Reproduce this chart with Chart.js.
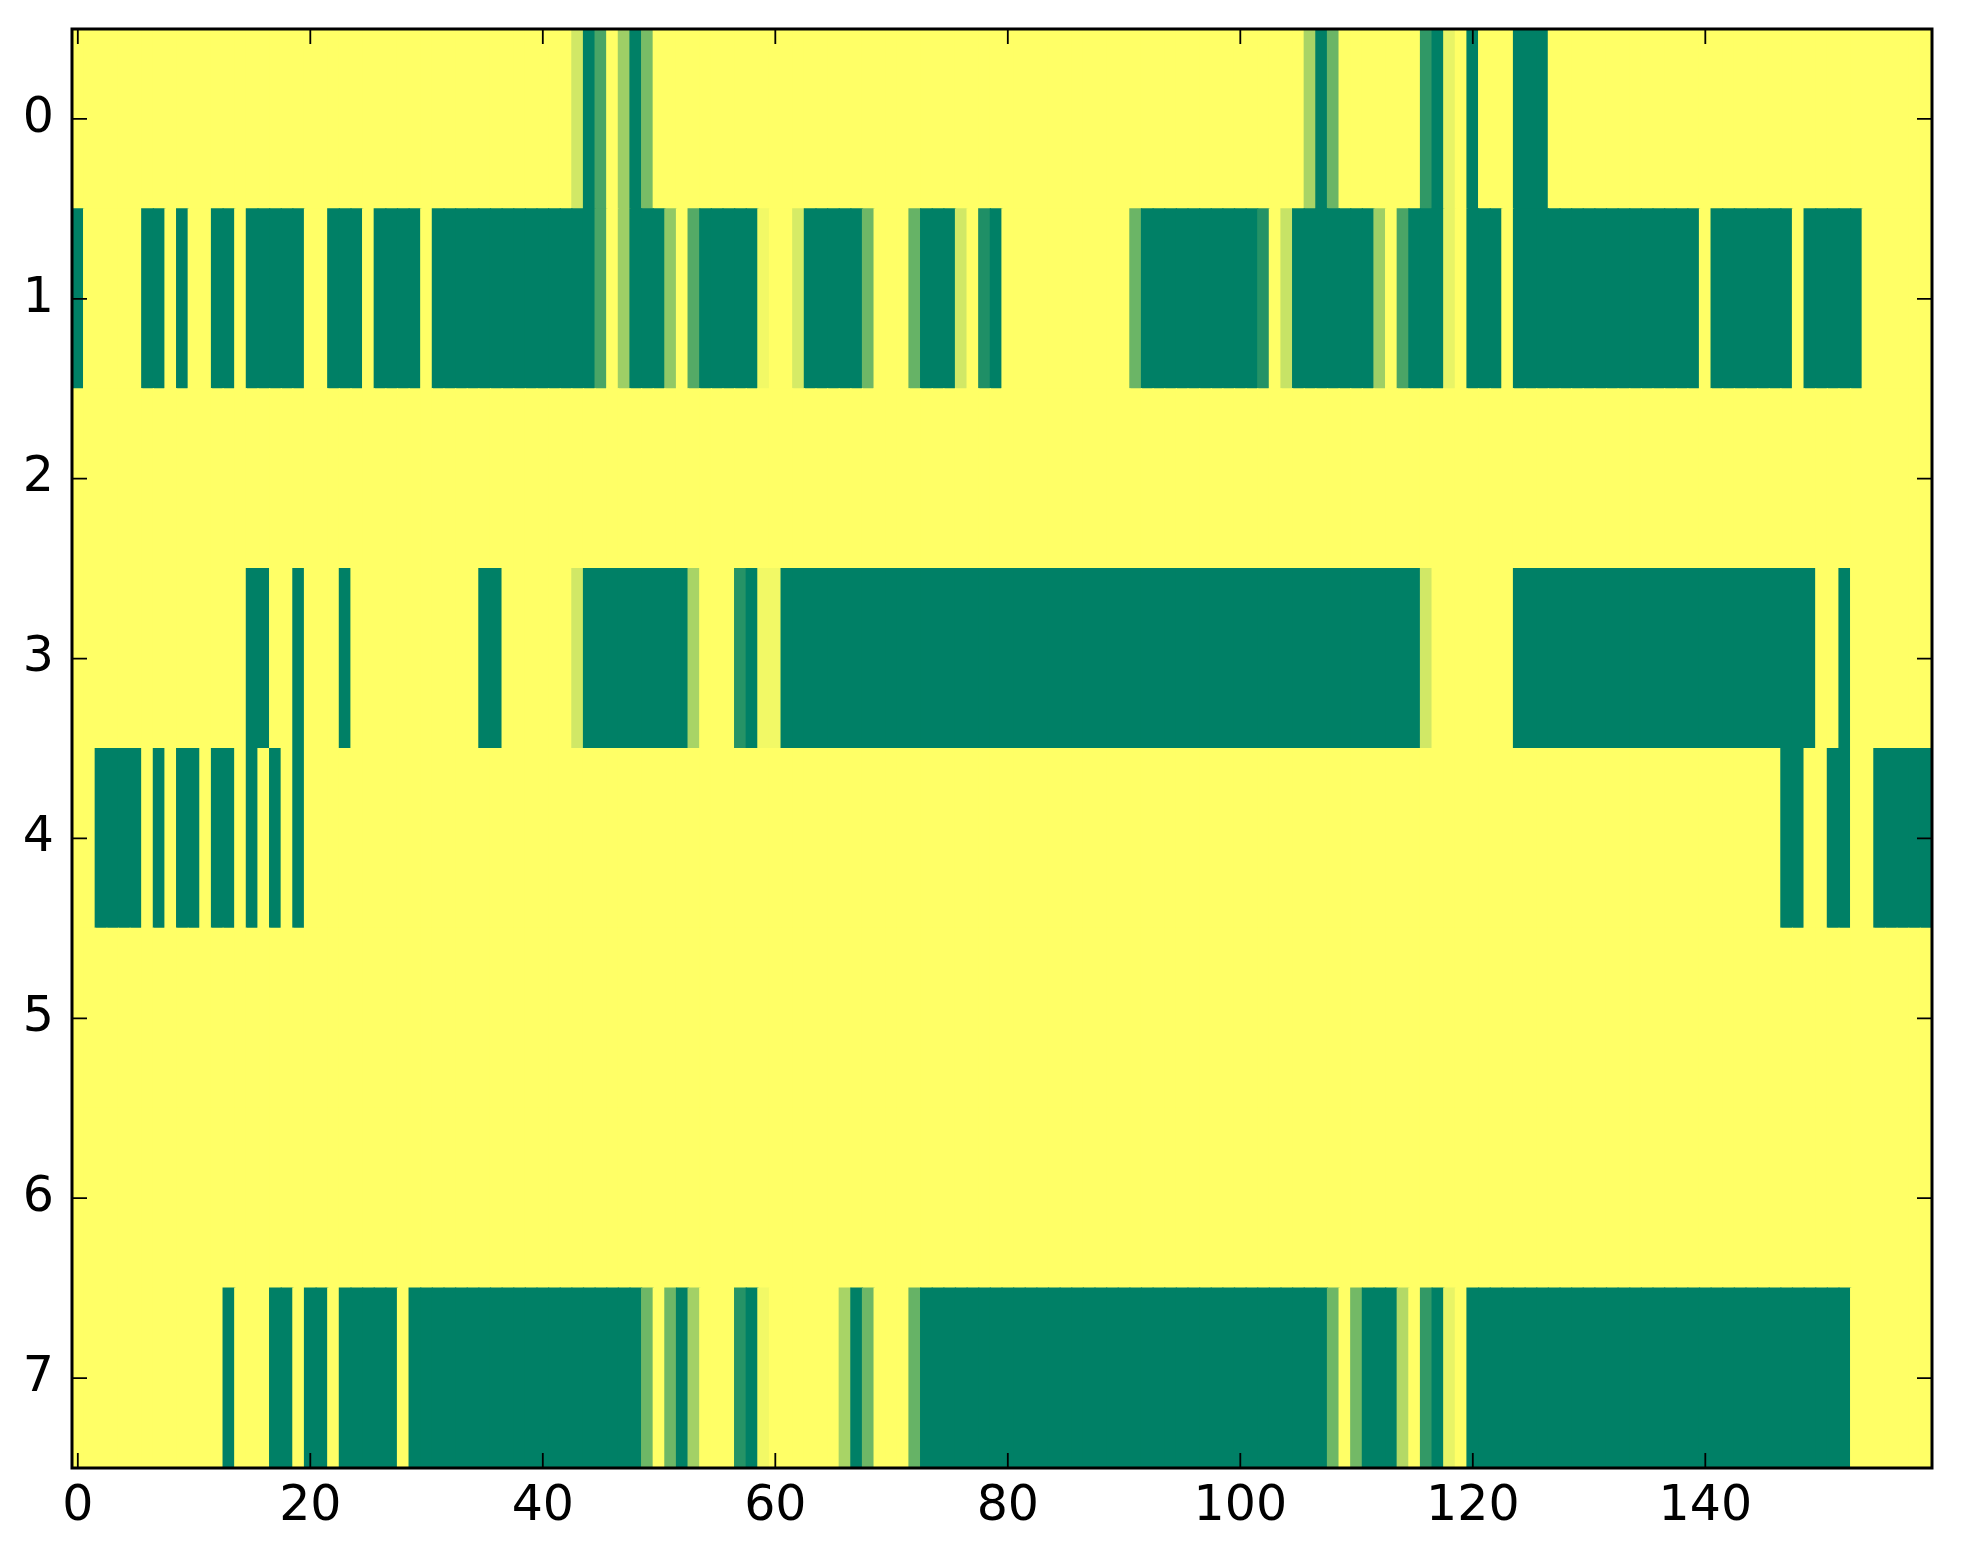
<!DOCTYPE html>
<html>
<head>
<meta charset="utf-8">
<title>heatmap</title>
<script src="https://cdn.jsdelivr.net/npm/chart.js@4.4.1/dist/chart.umd.min.js"></script>
<style>
  html, body { margin: 0; padding: 0; background: #ffffff; }
  canvas { display: block; }
</style>
</head>
<body>
<canvas id="heat" width="1963" height="1564"></canvas>
<script>
// one value per column (0 = yellow, 1 = dark green)
var row0 = [
  0,0,0,0,0,0,0,0,0,0,0,0,0,0,0,0,0,0,0,0,
  0,0,0,0,0,0,0,0,0,0,0,0,0,0,0,0,0,0,0,0,
  0,0,0,.18,1,.71,0,.38,1,.53,0,0,0,0,0,0,0,0,0,0,
  0,0,0,0,0,0,0,0,0,0,0,0,0,0,0,0,0,0,0,0,
  0,0,0,0,0,0,0,0,0,0,0,0,0,0,0,0,0,0,0,0,
  0,0,0,0,0,0,.34,1,.58,0,0,0,0,0,0,0,.81,1,.09,0,
  1,0,0,0,1,1,1,0,0,0,0,0,0,0,0,0,0,0,0,0,
  0,0,0,0,0,0,0,0,0,0,0,0,0,0,0,0,0,0,0,0
];
var row1 = [
  1,0,0,0,0,0,1,1,0,1,0,0,1,1,0,1,1,1,1,1,
  0,0,1,1,1,0,1,1,1,1,0,1,1,1,1,1,1,1,1,1,
  1,1,1,1,1,.71,0,.38,1,1,1,.43,0,.67,1,1,1,1,1,.05,
  0,0,.16,1,1,1,1,1,.57,0,0,0,.6,1,1,1,.18,0,.88,1,
  0,0,0,0,0,0,0,0,0,0,0,.58,1,1,1,1,1,1,1,1,
  1,1,.86,0,.22,1,1,1,1,1,1,1,.38,0,.71,1,1,1,.09,0,
  1,1,1,0,1,1,1,1,1,1,1,1,1,1,1,1,1,1,1,1,
  0,1,1,1,1,1,1,1,0,1,1,1,1,1,0,0,0,0,0,0
];
var row2 = [
  0,0,0,0,0,0,0,0,0,0,0,0,0,0,0,0,0,0,0,0,
  0,0,0,0,0,0,0,0,0,0,0,0,0,0,0,0,0,0,0,0,
  0,0,0,0,0,0,0,0,0,0,0,0,0,0,0,0,0,0,0,0,
  0,0,0,0,0,0,0,0,0,0,0,0,0,0,0,0,0,0,0,0,
  0,0,0,0,0,0,0,0,0,0,0,0,0,0,0,0,0,0,0,0,
  0,0,0,0,0,0,0,0,0,0,0,0,0,0,0,0,0,0,0,0,
  0,0,0,0,0,0,0,0,0,0,0,0,0,0,0,0,0,0,0,0,
  0,0,0,0,0,0,0,0,0,0,0,0,0,0,0,0,0,0,0,0
];
var row3 = [
  0,0,0,0,0,0,0,0,0,0,0,0,0,0,0,1,1,0,0,1,
  0,0,0,1,0,0,0,0,0,0,0,0,0,0,0,1,1,0,0,0,
  0,0,0,.18,1,1,1,1,1,1,1,1,1,.34,0,0,0,.85,1,.05,
  .05,1,1,1,1,1,1,1,1,1,1,1,1,1,1,1,1,1,1,1,
  1,1,1,1,1,1,1,1,1,1,1,1,1,1,1,1,1,1,1,1,
  1,1,1,1,1,1,1,1,1,1,1,1,1,1,1,1,.18,0,0,0,
  0,0,0,0,1,1,1,1,1,1,1,1,1,1,1,1,1,1,1,1,
  1,1,1,1,1,1,1,1,1,1,0,0,1,0,0,0,0,0,0,0
];
var row4 = [
  0,0,1,1,1,1,0,1,0,1,1,0,1,1,0,1,0,1,0,1,
  0,0,0,0,0,0,0,0,0,0,0,0,0,0,0,0,0,0,0,0,
  0,0,0,0,0,0,0,0,0,0,0,0,0,0,0,0,0,0,0,0,
  0,0,0,0,0,0,0,0,0,0,0,0,0,0,0,0,0,0,0,0,
  0,0,0,0,0,0,0,0,0,0,0,0,0,0,0,0,0,0,0,0,
  0,0,0,0,0,0,0,0,0,0,0,0,0,0,0,0,0,0,0,0,
  0,0,0,0,0,0,0,0,0,0,0,0,0,0,0,0,0,0,0,0,
  0,0,0,0,0,0,0,1,1,0,0,1,1,0,0,1,1,1,1,1
];
var row5 = [
  0,0,0,0,0,0,0,0,0,0,0,0,0,0,0,0,0,0,0,0,
  0,0,0,0,0,0,0,0,0,0,0,0,0,0,0,0,0,0,0,0,
  0,0,0,0,0,0,0,0,0,0,0,0,0,0,0,0,0,0,0,0,
  0,0,0,0,0,0,0,0,0,0,0,0,0,0,0,0,0,0,0,0,
  0,0,0,0,0,0,0,0,0,0,0,0,0,0,0,0,0,0,0,0,
  0,0,0,0,0,0,0,0,0,0,0,0,0,0,0,0,0,0,0,0,
  0,0,0,0,0,0,0,0,0,0,0,0,0,0,0,0,0,0,0,0,
  0,0,0,0,0,0,0,0,0,0,0,0,0,0,0,0,0,0,0,0
];
var row6 = [
  0,0,0,0,0,0,0,0,0,0,0,0,0,0,0,0,0,0,0,0,
  0,0,0,0,0,0,0,0,0,0,0,0,0,0,0,0,0,0,0,0,
  0,0,0,0,0,0,0,0,0,0,0,0,0,0,0,0,0,0,0,0,
  0,0,0,0,0,0,0,0,0,0,0,0,0,0,0,0,0,0,0,0,
  0,0,0,0,0,0,0,0,0,0,0,0,0,0,0,0,0,0,0,0,
  0,0,0,0,0,0,0,0,0,0,0,0,0,0,0,0,0,0,0,0,
  0,0,0,0,0,0,0,0,0,0,0,0,0,0,0,0,0,0,0,0,
  0,0,0,0,0,0,0,0,0,0,0,0,0,0,0,0,0,0,0,0
];
var row7 = [
  0,0,0,0,0,0,0,0,0,0,0,0,0,1,0,0,0,1,1,0,
  1,1,0,1,1,1,1,1,0,1,1,1,1,1,1,1,1,1,1,1,
  1,1,1,1,1,1,1,1,1,.57,0,.57,1,.36,0,0,0,.85,1,.05,
  0,0,0,0,0,0,.34,1,.57,0,0,0,.6,1,1,1,1,1,1,1,
  1,1,1,1,1,1,1,1,1,1,1,1,1,1,1,1,1,1,1,1,
  1,1,1,1,1,1,1,1,.57,0,.55,1,1,1,.3,0,.8,1,.09,0,
  1,1,1,1,1,1,1,1,1,1,1,1,1,1,1,1,1,1,1,1,
  1,1,1,1,1,1,1,1,1,1,1,1,1,0,0,0,0,0,0,0
];

var rows = [row0, row1, row2, row3, row4, row5, row6, row7];
var xTicks = [0, 20, 40, 60, 80, 100, 120, 140];
var yTicks = [0, 1, 2, 3, 4, 5, 6, 7];

const TICK_LEN = 15;
const FONT = '"DejaVu Sans", sans-serif';

// matplotlib "summer", reversed so that 1 is the dark end
function summer(v) {
  let t = 1 - v;
  let r = Math.round(255 * t);
  let g = Math.round(128 + 127 * t);
  return 'rgb(' + r + ',' + g + ',102)';
}

var cells = [];
rows.forEach((row, r) => {
  row.forEach((v, c) => {
    cells.push({x: [c - 0.5, c + 0.5], y: r, v: v});
  });
});

// inward ticks on all four sides and the black frame
const frame = {
  id: 'frame',
  afterDraw(chart) {
    const ctx = chart.ctx;
    const a = chart.chartArea;
    const sx = chart.scales.x;
    const sy = chart.scales.y;
    ctx.save();
    ctx.strokeStyle = '#000000';
    ctx.lineWidth = 1.8;
    ctx.beginPath();
    sx.ticks.forEach(t => {
      let px = sx.getPixelForValue(t.value);
      ctx.moveTo(px, a.bottom);
      ctx.lineTo(px, a.bottom - TICK_LEN);
      ctx.moveTo(px, a.top);
      ctx.lineTo(px, a.top + TICK_LEN);
    });
    sy.ticks.forEach(t => {
      let py = sy.getPixelForValue(t.value);
      ctx.moveTo(a.left, py);
      ctx.lineTo(a.left + TICK_LEN, py);
      ctx.moveTo(a.right, py);
      ctx.lineTo(a.right - TICK_LEN, py);
    });
    ctx.stroke();
    ctx.lineWidth = 3;
    ctx.strokeRect(a.left, a.top, a.right - a.left, a.bottom - a.top);
    ctx.restore();
  }
};

window.onload = () => {
  new Chart(document.getElementById('heat'), {
    type: 'bar',
    data: {
      datasets: [{
        data: cells,
        backgroundColor: ctx => summer(ctx.raw ? ctx.raw.v : 0),
        borderWidth: 0,
        borderSkipped: false,
        inflateAmount: 0.6,
        barPercentage: 1,
        categoryPercentage: 1
      }]
    },
    options: {
      indexAxis: 'y',
      responsive: false,
      devicePixelRatio: 1,
      animation: false,
      layout: { padding: { top: 29, right: 31, left: 0, bottom: 0 } },
      plugins: {
        legend: { display: false },
        tooltip: { enabled: false }
      },
      scales: {
        x: {
          type: 'linear',
          position: 'bottom',
          min: -0.5,
          max: 159.5,
          offset: false,
          grid: { display: false, drawTicks: false },
          border: { display: false },
          afterBuildTicks: axis => { axis.ticks = xTicks.map(v => ({value: v})); },
          afterFit: axis => {
            axis.height = 96;
            axis.paddingLeft = 0;
            axis.paddingRight = 0;
          },
          ticks: {
            autoSkip: false,
            maxRotation: 0,
            padding: 10,
            color: '#000000',
            font: { family: FONT, size: 49 }
          }
        },
        y: {
          type: 'linear',
          reverse: true,
          min: -0.5,
          max: 7.5,
          offset: false,
          grid: { display: false, drawTicks: false },
          border: { display: false },
          afterBuildTicks: axis => { axis.ticks = yTicks.map(v => ({value: v})); },
          afterFit: axis => {
            axis.width = 72;
            axis.paddingTop = 0;
            axis.paddingBottom = 0;
          },
          ticks: {
            autoSkip: false,
            padding: 18,
            color: '#000000',
            font: { family: FONT, size: 49 }
          }
        }
      }
    },
    plugins: [frame]
  });
};
</script>
</body>
</html>
